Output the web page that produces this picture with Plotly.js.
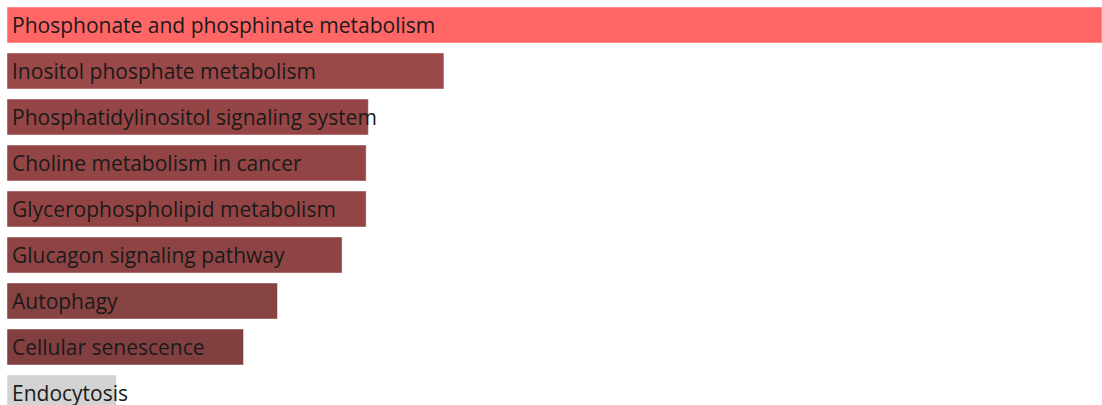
<!DOCTYPE html>
<html>
<head>
<meta charset="utf-8">
<script src="https://cdn.plot.ly/plotly-3.0.1.min.js"></script>
<style>html,body{margin:0;padding:0;background:#fff;}#chart{width:1102px;height:405px;}</style>
</head>
<body>
<div id="chart"></div>
<script>
var terms = [
  "Phosphonate and phosphinate metabolism",
  "Inositol phosphate metabolism",
  "Phosphatidylinositol signaling system",
  "Choline metabolism in cancer",
  "Glycerophospholipid metabolism",
  "Glucagon signaling pathway",
  "Autophagy",
  "Cellular senescence",
  "Endocytosis"
];
var scores = [10.0, 3.99, 3.30, 3.28, 3.28, 3.06, 2.47, 2.16, 1.00];
var barColors = ["#FF6666", "#9B4848", "#954545", "#934545", "#934545", "#8E4444", "#874242", "#823F3F", "#D3D3D3"];

var bars = {
  type: "bar",
  orientation: "h",
  x: scores,
  y: terms,
  marker: {color: barColors, line: {color: "rgba(255,255,255,0.45)", width: 1}},
  hoverinfo: "none",
  showlegend: false
};

var annotations = terms.map(function(t, i){
  return {x: 0, y: t, xref: "x", yref: "y", text: t, showarrow: false,
          xanchor: "left", yanchor: "middle", xshift: 3,
          font: {family: "Open Sans, sans-serif", size: 21, color: "#1a1a1a"}};
});

var layout = {
  width: 1102, height: 405,
  margin: {l: 7, r: 0, t: 2, b: 0, pad: 0},
  paper_bgcolor: "#ffffff", plot_bgcolor: "#ffffff",
  bargap: 10/46,
  xaxis: {range: [0, 10], visible: false, fixedrange: true},
  yaxis: {type: "category", categoryorder: "array", categoryarray: terms,
          range: [8.5 - 11/46, -0.5], visible: false, fixedrange: true},
  annotations: annotations,
  showlegend: false
};

Plotly.newPlot("chart", [bars], layout, {staticPlot: true, displayModeBar: false});
</script>
</body>
</html>
